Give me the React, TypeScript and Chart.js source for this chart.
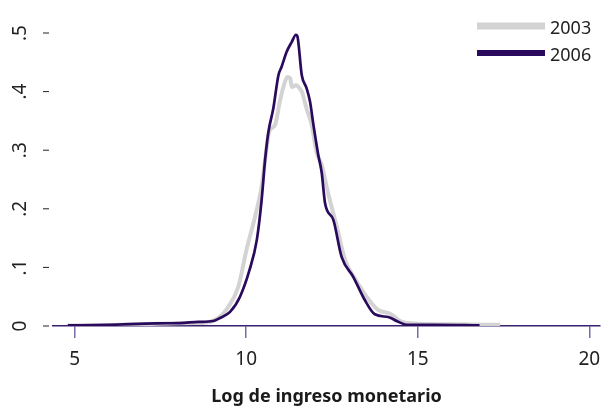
import React, { useEffect, useRef } from "react";
import { Chart, registerables } from "chart.js";

Chart.register(...registerables);

const label2003 = "2003";
const label2006 = "2006";

const x2003 = [4.8, 6.0, 7.4, 8.5, 8.85, 9.24, 9.45, 9.77, 10.01, 10.26, 10.45, 10.55, 10.67, 10.84, 10.98, 11.1, 11.2, 11.28, 11.33, 11.45, 11.52, 11.62, 11.76, 11.91, 12.05, 12.2, 12.39, 12.64, 12.88, 13.2, 13.51, 13.85, 14.2, 14.5, 15.0, 16.0, 17.4];
const d2003 = [0.001, 0.0015, 0.004, 0.005, 0.006, 0.016, 0.03, 0.067, 0.13, 0.187, 0.238, 0.283, 0.332, 0.343, 0.383, 0.411, 0.425, 0.423, 0.408, 0.411, 0.408, 0.4, 0.371, 0.343, 0.297, 0.275, 0.226, 0.17, 0.113, 0.078, 0.05, 0.027, 0.021, 0.008, 0.004, 0.003, 0.002];

const x2006 = [4.8, 6.0, 7.4, 8.07, 8.6, 9.04, 9.24, 9.53, 9.82, 10.1, 10.31, 10.45, 10.55, 10.65, 10.79, 10.94, 11.03, 11.18, 11.33, 11.45, 11.49, 11.62, 11.76, 11.86, 11.96, 12.1, 12.2, 12.3, 12.54, 12.78, 13.12, 13.46, 13.75, 14.16, 14.4, 14.7, 15.5, 16.8];
const d2006 = [0.001, 0.002, 0.0046, 0.005, 0.007, 0.0085, 0.0137, 0.024, 0.05, 0.096, 0.147, 0.215, 0.283, 0.332, 0.371, 0.428, 0.442, 0.468, 0.485, 0.497, 0.495, 0.428, 0.406, 0.383, 0.343, 0.292, 0.262, 0.209, 0.181, 0.118, 0.084, 0.044, 0.02, 0.015, 0.008, 0.002, 0.002, 0.001];

const xTicks = [5, 10, 15, 20];
const yTicks = [0, 0.1, 0.2, 0.3, 0.4, 0.5];
const yTickLabels = ["0", ".1", ".2", ".3", ".4", ".5"];
const xTitle = "Log de ingreso monetario";

const GRAY = "#d3d3d3";
const PURPLE = "#2a0a5c";
const FONT = "'Noto Sans', 'Open Sans', sans-serif";

const overlay = {
  id: "overlay",
  afterDraw(chart: any) {
    const ctx = chart.ctx;
    const ys = chart.scales.y;
    ctx.save();
    ctx.strokeStyle = "#222";
    ctx.lineWidth = 1;
    ctx.fillStyle = "#222";
    ctx.font = `19px ${FONT}`;
    yTicks.forEach((v, i) => {
      const py = ys.getPixelForValue(v);
      ctx.beginPath();
      ctx.moveTo(43, py);
      ctx.lineTo(49, py);
      ctx.stroke();
      ctx.save();
      ctx.translate(26, py);
      ctx.rotate(-Math.PI / 2);
      ctx.textAlign = "center";
      ctx.textBaseline = "alphabetic";
      ctx.fillText(yTickLabels[i], 0, 0);
      ctx.restore();
    });
    const items = chart.data.datasets.map((ds: any) => ({ label: ds.label, color: ds.borderColor }));
    const rows = [26, 53];
    const widths = [7, 6];
    items.forEach((it: any, i: number) => {
      const y = rows[i];
      ctx.strokeStyle = it.color;
      ctx.lineWidth = widths[i];
      ctx.beginPath();
      ctx.moveTo(477, y);
      ctx.lineTo(545, y);
      ctx.stroke();
      ctx.fillStyle = "#222";
      ctx.font = `18px ${FONT}`;
      ctx.textAlign = "left";
      ctx.textBaseline = "alphabetic";
      ctx.fillText(it.label, 550, y + 8);
    });
    ctx.restore();
  },
};

export default function App() {
  const ref = useRef<HTMLCanvasElement | null>(null);
  useEffect(() => {
    document.body.style.margin = "0";
    const canvas = ref.current;
    if (!canvas) return;
    const chart = new Chart(canvas, {
      type: "line",
      data: {
        datasets: [
          {
            label: label2003,
            data: x2003.map((x, i) => ({ x, y: d2003[i] })),
            borderColor: GRAY,
            borderWidth: 4,
            pointRadius: 0,
            cubicInterpolationMode: "monotone",
            order: 1,
          },
          {
            label: label2006,
            data: x2006.map((x, i) => ({ x, y: d2006[i] })),
            borderColor: PURPLE,
            borderWidth: 2.7,
            pointRadius: 0,
            cubicInterpolationMode: "monotone",
            order: 0,
          },
        ],
      },
      options: {
        animation: false,
        responsive: false,
        layout: { padding: { top: 20, right: 3, left: 0, bottom: 0 } },
        plugins: { legend: { display: false }, tooltip: { enabled: false } },
        scales: {
          x: {
            type: "linear",
            min: 4.371,
            max: 20.31,
            afterBuildTicks: (s: any) => {
              s.ticks = xTicks.map((v) => ({ value: v }));
            },
            afterFit: (s: any) => {
              s.height = 80;
              s.paddingLeft = 0;
              s.paddingRight = 0;
              s.paddingTop = 0;
              s.paddingBottom = 0;
            },
            border: { display: true, color: "#3a2070", width: 1.5 },
            grid: { drawOnChartArea: false, drawTicks: true, tickLength: 12, color: "#7a6aa8", lineWidth: 1.5 },
            ticks: {
              padding: 10,
              color: "#222",
              font: { family: FONT, size: 19 },
              maxRotation: 0,
              callback: (v: any) => String(v),
            },
            title: {
              display: true,
              text: xTitle,
              color: "#1a1a1a",
              font: { family: FONT, size: 18, weight: "bold" },
              padding: { top: 0, bottom: -2 },
            },
          },
          y: {
            type: "linear",
            min: 0,
            max: 0.5222,
            afterBuildTicks: (s: any) => {
              s.ticks = yTicks.map((v) => ({ value: v }));
            },
            afterFit: (s: any) => {
              s.width = 53;
              s.paddingTop = 0;
              s.paddingBottom = 0;
            },
            border: { display: false },
            grid: { display: false },
            ticks: { display: false },
          },
        },
      },
      plugins: [overlay],
    } as any);
    return () => chart.destroy();
  }, []);
  return <canvas ref={ref} width={603} height={406} style={{ display: "block" }} />;
}
